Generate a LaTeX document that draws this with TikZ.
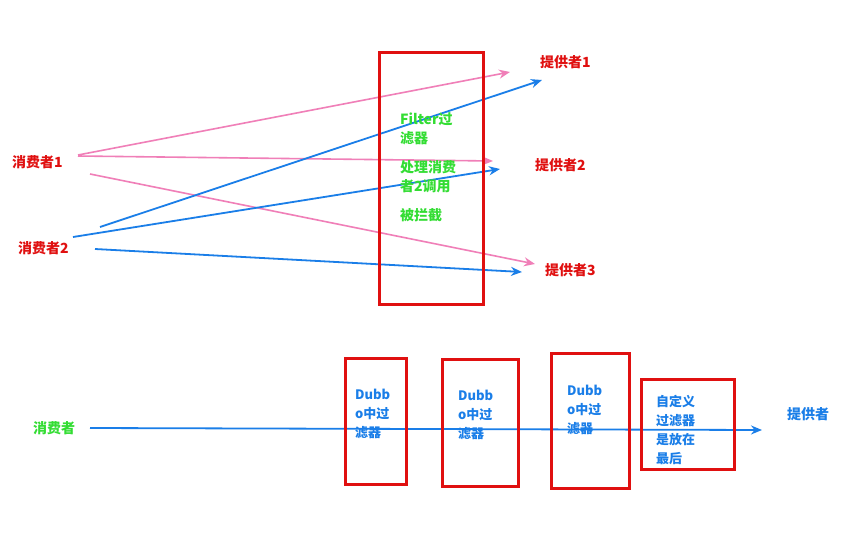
\documentclass[tikz,border=0pt]{standalone}
\usepackage{fontspec}
\setmainfont{Noto Sans CJK SC}
\usetikzlibrary{arrows.meta}
\definecolor{pk}{HTML}{F07FB8}
\definecolor{bl}{HTML}{1A7EE8}
\definecolor{rd}{HTML}{E01010}
\definecolor{gr}{HTML}{33DD33}
\tikzset{
  lbl/.style={font=\fontsize{14}{15}\selectfont\bfseries, inner sep=0pt, anchor=west},
  pa/.style={pk, line width=1.6pt, -{Stealth[length=11pt,width=9pt]}},
  ba/.style={bl, line width=1.8pt, -{Stealth[length=11pt,width=9pt]}},
  box/.style={draw=rd, line width=2.6pt},
  tl/.style={font=\fontsize{13}{19}\selectfont\bfseries, inner sep=0pt, anchor=north west, align=left},
}
\begin{document}
\begin{tikzpicture}[x=1pt,y=-1pt]
\useasboundingbox[fill=white] (0,0) rectangle (867,541);
% top
\node[lbl, text=rd] (c1) at (12,162) {消费者1};
\node[lbl, text=rd] (c2) at (18,248) {消费者2};
\node[lbl, text=rd] (p1) at (540,62) {提供者1};
\node[lbl, text=rd] (p2) at (535,165) {提供者2};
\node[lbl, text=rd] (p3) at (545,270) {提供者3};
\coordinate (a1s) at (78,155); \coordinate (a1e) at (510,72);
\coordinate (a2s) at (78,156); \coordinate (a2e) at (493,161);
\coordinate (a3s) at (90,174); \coordinate (a3e) at (535,264);
\coordinate (b1s) at (100,227); \coordinate (b1e) at (542,80);
\coordinate (b2s) at (73,237); \coordinate (b2e) at (500,169);
\coordinate (b3s) at (95,249); \coordinate (b3e) at (522,272);
\draw[pa] (a1s) -- (a1e);
\draw[pa] (a2s) -- (a2e);
\draw[pa] (a3s) -- (a3e);
\draw[ba] (b1s) -- (b1e);
\draw[ba] (b2s) -- (b2e);
\draw[ba] (b3s) -- (b3e);
\node[box, minimum width=104pt, minimum height=252pt, anchor=north west] (f) at (378,51) {};
\node[lbl, text=gr] (t1) at (400,119) {Filter过};
\node[lbl, text=gr] (t2) at (400,138) {滤器};
\node[lbl, text=gr] (t3) at (400,167) {处理消费};
\node[lbl, text=gr] (t4) at (400,186) {者2调用};
\node[lbl, text=gr] (t5) at (400,215) {被拦截};
% bottom
\node[lbl, text=gr] (c) at (33,428) {消费者};
\node[lbl, text=bl] (p) at (787,414) {提供者};
\coordinate (ls) at (90,428);
\coordinate (le) at (762,430);
\draw[ba] (ls) -- (le);
\node[box, minimum width=61pt, minimum height=126pt, anchor=north west] (d1) at (344,357) {};
\node[box, minimum width=76pt, minimum height=127pt, anchor=north west] (d2) at (441,358) {};
\node[box, minimum width=78pt, minimum height=135pt, anchor=north west] (d3) at (550,352) {};
\node[box, minimum width=93pt, minimum height=90pt, anchor=north west] (d4) at (640,378) {};
\node[tl, text=bl] (e1) at (355,389) {Dubb\\o中过\\滤器};
\node[tl, text=bl] (e2) at (458,390) {Dubb\\o中过\\滤器};
\node[tl, text=bl] (e3) at (567,385) {Dubb\\o中过\\滤器};
\node[tl, text=bl] (e4) at (656,395) {自定义\\过滤器\\是放在\\最后};
\end{tikzpicture}
\end{document}
